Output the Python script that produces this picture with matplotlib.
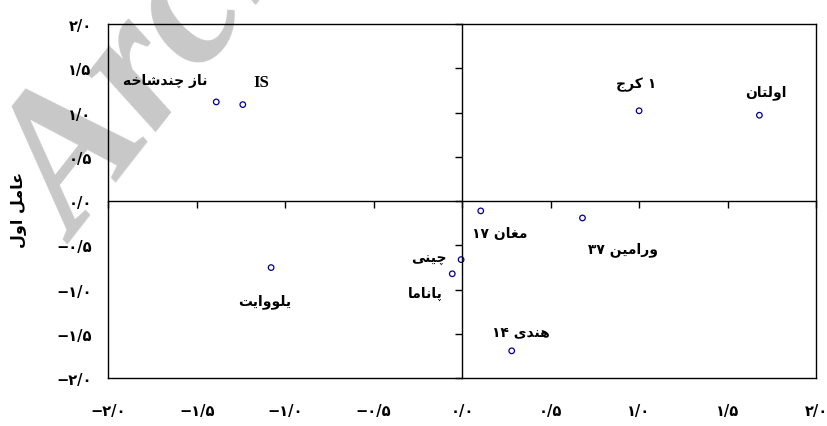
import re
import matplotlib
matplotlib.use('Agg')
import matplotlib.pyplot as plt
from matplotlib.ticker import FuncFormatter

# cultivars and their scores on the two factors
names = ['ناز چندشاخه', 'IS', '۱ کرج', 'اولتان', 'مغان ۱۷', 'ورامین ۳۷',
         'چینی', 'پاناما', 'یلووایت', 'هندی ۱۴']
factor2 = [-1.39, -1.24, 1.00, 1.68, 0.105, 0.68, -0.006, -0.056, -1.08, 0.28]
factor1 = [1.12, 1.09, 1.02, 0.97, -0.11, -0.19, -0.66, -0.82, -0.75, -1.69]
ticks = [-2.0, -1.5, -1.0, -0.5, 0.0, 0.5, 1.0, 1.5, 2.0]
ylabel = 'عامل اول'

# label offsets from the marker, in pixels
offsets = [(-51, 22), (19, 23), (-3, 27), (6, 24), (19, -22), (41, -31),
           (-32, 2), (-27, -19), (-6, -33), (9, 20)]

# presentation forms: isolated, final, initial, medial
FORMS = {
    'ا': ('\uFE8D', '\uFE8E', None, None),
    'ب': ('\uFE8F', '\uFE90', '\uFE91', '\uFE92'),
    'پ': ('\uFB56', '\uFB57', '\uFB58', '\uFB59'),
    'ت': ('\uFE95', '\uFE96', '\uFE97', '\uFE98'),
    'ج': ('\uFE9D', '\uFE9E', '\uFE9F', '\uFEA0'),
    'چ': ('\uFB7A', '\uFB7B', '\uFB7C', '\uFB7D'),
    'خ': ('\uFEA5', '\uFEA6', '\uFEA7', '\uFEA8'),
    'د': ('\uFEA9', '\uFEAA', None, None),
    'ر': ('\uFEAD', '\uFEAE', None, None),
    'ز': ('\uFEAF', '\uFEB0', None, None),
    'ش': ('\uFEB5', '\uFEB6', '\uFEB7', '\uFEB8'),
    'ع': ('\uFEC9', '\uFECA', '\uFECB', '\uFECC'),
    'غ': ('\uFECD', '\uFECE', '\uFECF', '\uFED0'),
    'ک': ('\uFB8E', '\uFB8F', '\uFB90', '\uFB91'),
    'ل': ('\uFEDD', '\uFEDE', '\uFEDF', '\uFEE0'),
    'م': ('\uFEE1', '\uFEE2', '\uFEE3', '\uFEE4'),
    'ن': ('\uFEE5', '\uFEE6', '\uFEE7', '\uFEE8'),
    'ه': ('\uFEE9', '\uFEEA', '\uFEEB', '\uFEEC'),
    'و': ('\uFEED', '\uFEEE', None, None),
    'ی': ('\uFBFC', '\uFBFD', '\uFBFE', '\uFBFF'),
}


def fa(text):
    """Shape Persian letters and put them in visual order."""
    if not any(c in FORMS for c in text):
        return text
    out = []
    for i, c in enumerate(text):
        if c not in FORMS:
            out.append(c)
            continue
        prev = text[i - 1] if i > 0 else ''
        nxt = text[i + 1] if i + 1 < len(text) else ''
        join_prev = prev in FORMS and FORMS[prev][2] is not None
        join_next = FORMS[c][2] is not None and nxt in FORMS
        iso, fin, ini, med = FORMS[c]
        if join_prev and join_next:
            out.append(med)
        elif join_prev:
            out.append(fin)
        elif join_next:
            out.append(ini)
        else:
            out.append(iso)
    vis = ''.join(out)[::-1]
    # digit runs stay left to right
    return re.sub('[۰-۹]+', lambda m: m.group(0)[::-1], vis)


def fa_num(v, pos=None):
    s = '%.1f' % abs(v)
    s = s.translate(str.maketrans('0123456789.', '۰۱۲۳۴۵۶۷۸۹/'))
    if v < -1e-9:
        s = '\u2212' + s
    return s


fig = plt.figure(figsize=(8.27, 4.27), dpi=100)
ax = fig.add_axes([0.131, 0.1117, 0.8557, 0.8298])
ax.patch.set_facecolor('none')

# watermark behind everything
fig.text(78 / 827, 1 - 245 / 427, 'Archive of SID', fontsize=140,
         family='Liberation Serif', weight='bold', style='italic',
         color='#c8c8c8', rotation=52, rotation_mode='anchor',
         ha='left', va='baseline', zorder=-10)

ax.scatter(factor2, factor1, s=16, facecolors='none', edgecolors='#00008b',
           linewidths=0.9, zorder=3)

for name, x, y, off in zip(names, factor2, factor1, offsets):
    if name.isascii():
        ax.annotate(name, (x, y), xytext=off, textcoords='offset pixels',
                    ha='center', va='center', fontsize=12, weight='bold',
                    family='Liberation Serif')
    else:
        ax.annotate(fa(name), (x, y), xytext=off, textcoords='offset pixels',
                    ha='center', va='center', fontsize=10, weight='bold',
                    family='DejaVu Sans')

ax.set_xlim(-2, 2)
ax.set_ylim(-2, 2)
ax.set_xticks(ticks)
ax.set_yticks(ticks)
ax.xaxis.set_major_formatter(FuncFormatter(fa_num))
ax.yaxis.set_major_formatter(FuncFormatter(fa_num))
ax.tick_params(length=0, labelsize=10.5)
ax.tick_params(axis='x', pad=18)
ax.tick_params(axis='y', pad=12)
for lab in ax.get_xticklabels() + ax.get_yticklabels():
    lab.set_fontweight('bold')
for sp in ax.spines.values():
    sp.set_linewidth(1.0)

# cross through the origin with its own ticks
ax2 = fig.add_axes(ax.get_position(), sharex=ax, sharey=ax)
ax2.patch.set_visible(False)
ax2.spines['top'].set_visible(False)
ax2.spines['right'].set_visible(False)
ax2.spines['left'].set_position(('data', 0))
ax2.spines['bottom'].set_position(('data', 0))
ax2.spines['left'].set_linewidth(1.0)
ax2.spines['bottom'].set_linewidth(1.0)
ax2.tick_params(direction='out', length=5, width=1.0,
                labelbottom=False, labelleft=False)

fig.text(18 / 827, 1 - 210 / 427, fa(ylabel), rotation=90, ha='center',
         va='center', fontsize=11.5, weight='bold')

fig.savefig('out.png', dpi=100)
